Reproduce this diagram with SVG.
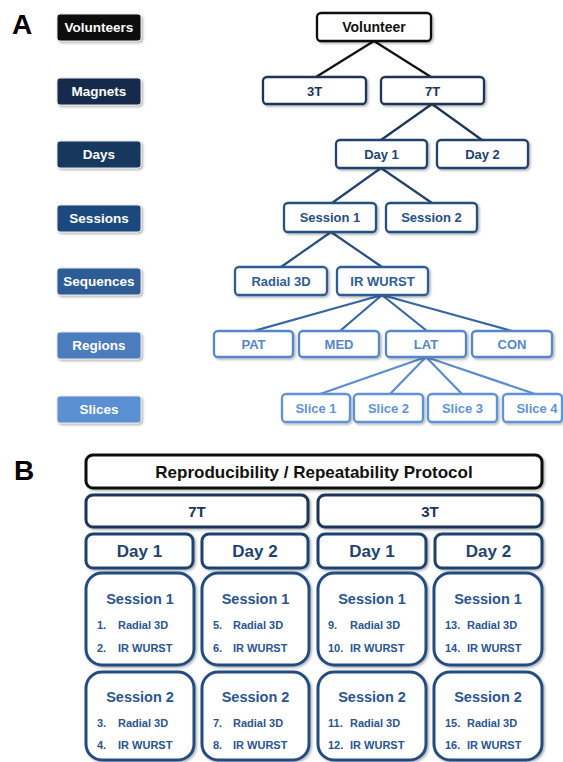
<svg xmlns="http://www.w3.org/2000/svg" width="563" height="762" viewBox="0 0 563 762">
<style>
text{font-family:"Liberation Sans",Arial,sans-serif;font-weight:bold;}
.lbl rect{stroke:#e6e6e6;stroke-width:1;filter:url(#sh);}
.lbl text{fill:#fff;font-size:13.5px;text-anchor:middle;}
.t rect{fill:#fff;stroke-width:2.3;filter:url(#sh);}
.t text{font-size:13px;text-anchor:middle;}
.b rect{fill:#fff;stroke-width:3;filter:url(#sh);}
.b text{text-anchor:middle;}
.it text{font-size:11px;text-anchor:start;}
.c line{stroke-width:2.2;}
.letter{font-size:28px;fill:#000;}
</style>
<defs>
<filter id="sh" x="-10%" y="-20%" width="130%" height="150%">
<feDropShadow dx="1.5" dy="1.5" stdDeviation="1" flood-color="#000" flood-opacity="0.3"/>
</filter>
</defs>
<rect width="563" height="762" fill="#fff"/>
<text class="letter" x="12" y="34">A</text>
<text class="letter" x="14" y="480">B</text>

<!-- Left level labels -->
<g id="lbl-volunteers" class="lbl"><rect x="57" y="14" width="84" height="27" rx="3" fill="#0a0a0a"/><text x="99" y="32">Volunteers</text></g>
<g id="lbl-magnets" class="lbl"><rect x="57" y="78" width="84" height="27" rx="3" fill="#14294b"/><text x="99" y="96">Magnets</text></g>
<g id="lbl-days" class="lbl"><rect x="57" y="141" width="84" height="27" rx="3" fill="#17375e"/><text x="99" y="159">Days</text></g>
<g id="lbl-sessions" class="lbl"><rect x="57" y="205" width="84" height="27" rx="3" fill="#1f497d"/><text x="99" y="223">Sessions</text></g>
<g id="lbl-sequences" class="lbl"><rect x="57" y="268" width="84" height="27" rx="3" fill="#2e5c94"/><text x="99" y="286">Sequences</text></g>
<g id="lbl-regions" class="lbl"><rect x="57" y="332" width="84" height="27" rx="3" fill="#4b7cbe"/><text x="99" y="350">Regions</text></g>
<g id="lbl-slices" class="lbl"><rect x="57" y="396" width="84" height="27" rx="3" fill="#5a8fd2"/><text x="99" y="414">Slices</text></g>

<!-- Connectors -->
<g id="connectors" class="c">
<line x1="374" y1="41" x2="316" y2="77" stroke="#111"/>
<line x1="374" y1="41" x2="431" y2="77" stroke="#111"/>
<line x1="432" y1="104" x2="381" y2="140" stroke="#1c3557"/>
<line x1="432" y1="104" x2="482" y2="140" stroke="#1c3557"/>
<line x1="381" y1="168" x2="332" y2="203" stroke="#20426e"/>
<line x1="381" y1="168" x2="432" y2="203" stroke="#20426e"/>
<line x1="331" y1="232" x2="281" y2="267" stroke="#264f82"/>
<line x1="331" y1="232" x2="382" y2="267" stroke="#264f82"/>
<line x1="382" y1="295" x2="254" y2="331" stroke="#3766a0"/>
<line x1="382" y1="295" x2="340" y2="331" stroke="#3766a0"/>
<line x1="382" y1="295" x2="427" y2="331" stroke="#3766a0"/>
<line x1="382" y1="295" x2="512" y2="331" stroke="#3766a0"/>
<line x1="426" y1="357" x2="320" y2="394" stroke="#5b8ccd"/>
<line x1="426" y1="357" x2="390" y2="394" stroke="#5b8ccd"/>
<line x1="426" y1="357" x2="462" y2="394" stroke="#5b8ccd"/>
<line x1="426" y1="357" x2="535" y2="394" stroke="#5b8ccd"/>
</g>

<!-- Tree nodes -->
<g id="n-volunteer" class="t"><rect x="317" y="13" width="114" height="28" rx="4" stroke="#111"/><text x="374" y="32" fill="#111" style="font-size:14px">Volunteer</text></g>
<g id="n-3t" class="t"><rect x="263" y="77" width="103" height="27" rx="4" stroke="#1c3557"/><text x="314.5" y="96" fill="#1c3557">3T</text></g>
<g id="n-7t" class="t"><rect x="381" y="77" width="103" height="27" rx="4" stroke="#1c3557"/><text x="432.5" y="96" fill="#1c3557">7T</text></g>
<g id="n-day1" class="t"><rect x="336" y="140" width="91" height="28" rx="4" stroke="#20426e"/><text x="381.5" y="159" fill="#20426e">Day 1</text></g>
<g id="n-day2" class="t"><rect x="437" y="140" width="91" height="28" rx="4" stroke="#20426e"/><text x="482.5" y="159" fill="#20426e">Day 2</text></g>
<g id="n-session1" class="t"><rect x="284" y="203" width="92" height="29" rx="4" stroke="#264f82"/><text x="330" y="222" fill="#264f82">Session 1</text></g>
<g id="n-session2" class="t"><rect x="386" y="203" width="91" height="29" rx="4" stroke="#264f82"/><text x="431.5" y="222" fill="#264f82">Session 2</text></g>
<g id="n-radial" class="t"><rect x="235" y="267" width="92" height="28" rx="4" stroke="#2f5d96"/><text x="281" y="286" fill="#2f5d96">Radial 3D</text></g>
<g id="n-irwurst" class="t"><rect x="337" y="267" width="91" height="28" rx="4" stroke="#2f5d96"/><text x="382.5" y="286" fill="#2f5d96">IR WURST</text></g>
<g id="n-pat" class="t"><rect x="214" y="331" width="79" height="26" rx="4" stroke="#5586c8"/><text x="253.5" y="349" fill="#5586c8">PAT</text></g>
<g id="n-med" class="t"><rect x="299" y="331" width="80" height="26" rx="4" stroke="#5586c8"/><text x="339" y="349" fill="#5586c8">MED</text></g>
<g id="n-lat" class="t"><rect x="386" y="331" width="80" height="26" rx="4" stroke="#5586c8"/><text x="426" y="349" fill="#5586c8">LAT</text></g>
<g id="n-con" class="t"><rect x="472" y="331" width="80" height="26" rx="4" stroke="#5586c8"/><text x="512" y="349" fill="#5586c8">CON</text></g>
<g id="n-slice1" class="t"><rect x="282" y="394" width="68" height="28" rx="4" stroke="#5f93d6"/><text x="316" y="413" fill="#5f93d6">Slice 1</text></g>
<g id="n-slice2" class="t"><rect x="354" y="394" width="69" height="28" rx="4" stroke="#5f93d6"/><text x="388.5" y="413" fill="#5f93d6">Slice 2</text></g>
<g id="n-slice3" class="t"><rect x="428" y="394" width="69" height="28" rx="4" stroke="#5f93d6"/><text x="462.5" y="413" fill="#5f93d6">Slice 3</text></g>
<g id="n-slice4" class="t"><rect x="503" y="394" width="59" height="28" rx="4" stroke="#5f93d6"/><text x="537" y="413" fill="#5f93d6">Slice 4</text></g>

<!-- Part B -->
<g id="b-protocol" class="b"><rect x="86" y="455" width="456" height="33" rx="7" stroke="#111"/><text x="314" y="478" fill="#111" style="font-size:17px">Reproducibility / Repeatability Protocol</text></g>
<g id="b-7t" class="b"><rect x="86" y="495" width="222" height="32" rx="7" stroke="#1c3557"/><text x="197" y="517" fill="#1c3557" style="font-size:15px">7T</text></g>
<g id="b-3t" class="b"><rect x="318" y="495" width="224" height="32" rx="7" stroke="#1c3557"/><text x="430" y="517" fill="#1c3557" style="font-size:15px">3T</text></g>
<g id="b-7t-day1" class="b"><rect x="86" y="534" width="107" height="34" rx="7" stroke="#1f436f"/><text x="139.5" y="557" fill="#1f436f" style="font-size:17px">Day 1</text></g>
<g id="b-7t-day2" class="b"><rect x="202" y="534" width="106" height="34" rx="7" stroke="#1f436f"/><text x="255" y="557" fill="#1f436f" style="font-size:17px">Day 2</text></g>
<g id="b-3t-day1" class="b"><rect x="318" y="534" width="108" height="34" rx="7" stroke="#1f436f"/><text x="372" y="557" fill="#1f436f" style="font-size:17px">Day 1</text></g>
<g id="b-3t-day2" class="b"><rect x="435" y="534" width="107" height="34" rx="7" stroke="#1f436f"/><text x="488.5" y="557" fill="#1f436f" style="font-size:17px">Day 2</text></g>

<g id="b-s1" class="b it"><rect x="86" y="573" width="108" height="92" rx="16" stroke="#234c80"/><text x="140" y="604" fill="#2a5590" style="font-size:14.5px;text-anchor:middle">Session 1</text><text x="97" y="629" fill="#2a5590">1.</text><text x="118" y="629" fill="#2a5590">Radial 3D</text><text x="97" y="652" fill="#2a5590">2.</text><text x="118" y="652" fill="#2a5590">IR WURST</text></g>
<g id="b-s2" class="b it"><rect x="202" y="573" width="107" height="92" rx="16" stroke="#234c80"/><text x="255.5" y="604" fill="#2a5590" style="font-size:14.5px;text-anchor:middle">Session 1</text><text x="213" y="629" fill="#2a5590">5.</text><text x="233" y="629" fill="#2a5590">Radial 3D</text><text x="213" y="652" fill="#2a5590">6.</text><text x="233" y="652" fill="#2a5590">IR WURST</text></g>
<g id="b-s3" class="b it"><rect x="318" y="573" width="108" height="92" rx="16" stroke="#234c80"/><text x="372" y="604" fill="#2a5590" style="font-size:14.5px;text-anchor:middle">Session 1</text><text x="328" y="629" fill="#2a5590">9.</text><text x="350" y="629" fill="#2a5590">Radial 3D</text><text x="328" y="652" fill="#2a5590">10.</text><text x="350" y="652" fill="#2a5590">IR WURST</text></g>
<g id="b-s4" class="b it"><rect x="434" y="573" width="108" height="92" rx="16" stroke="#234c80"/><text x="488" y="604" fill="#2a5590" style="font-size:14.5px;text-anchor:middle">Session 1</text><text x="445" y="629" fill="#2a5590">13.</text><text x="467" y="629" fill="#2a5590">Radial 3D</text><text x="445" y="652" fill="#2a5590">14.</text><text x="467" y="652" fill="#2a5590">IR WURST</text></g>

<g id="b-s5" class="b it"><rect x="86" y="672" width="108" height="88" rx="16" stroke="#234c80"/><text x="140" y="702" fill="#2a5590" style="font-size:14.5px;text-anchor:middle">Session 2</text><text x="97" y="727" fill="#2a5590">3.</text><text x="118" y="727" fill="#2a5590">Radial 3D</text><text x="97" y="749" fill="#2a5590">4.</text><text x="118" y="749" fill="#2a5590">IR WURST</text></g>
<g id="b-s6" class="b it"><rect x="202" y="672" width="107" height="88" rx="16" stroke="#234c80"/><text x="255.5" y="702" fill="#2a5590" style="font-size:14.5px;text-anchor:middle">Session 2</text><text x="213" y="727" fill="#2a5590">7.</text><text x="233" y="727" fill="#2a5590">Radial 3D</text><text x="213" y="749" fill="#2a5590">8.</text><text x="233" y="749" fill="#2a5590">IR WURST</text></g>
<g id="b-s7" class="b it"><rect x="318" y="672" width="108" height="88" rx="16" stroke="#234c80"/><text x="372" y="702" fill="#2a5590" style="font-size:14.5px;text-anchor:middle">Session 2</text><text x="328" y="727" fill="#2a5590">11.</text><text x="350" y="727" fill="#2a5590">Radial 3D</text><text x="328" y="749" fill="#2a5590">12.</text><text x="350" y="749" fill="#2a5590">IR WURST</text></g>
<g id="b-s8" class="b it"><rect x="434" y="672" width="108" height="88" rx="16" stroke="#234c80"/><text x="488" y="702" fill="#2a5590" style="font-size:14.5px;text-anchor:middle">Session 2</text><text x="445" y="727" fill="#2a5590">15.</text><text x="467" y="727" fill="#2a5590">Radial 3D</text><text x="445" y="749" fill="#2a5590">16.</text><text x="467" y="749" fill="#2a5590">IR WURST</text></g>
</svg>
